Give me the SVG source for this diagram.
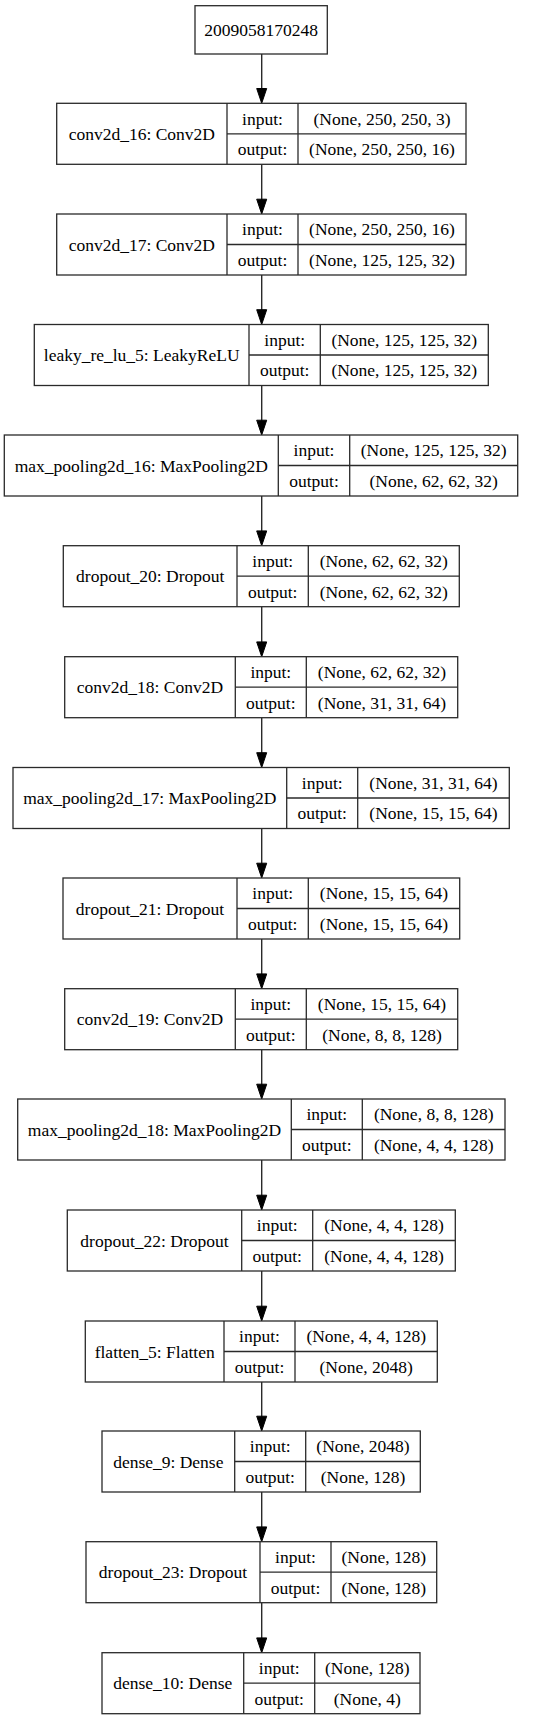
<svg xmlns="http://www.w3.org/2000/svg" width="548" height="1720" viewBox="0 0 548 1720">
<style>
.box{fill:#fff;stroke:#2a2a2a;stroke-width:1.3}
.div{stroke:#2a2a2a;stroke-width:1.3}
.t text{font-family:'Liberation Serif','Times New Roman',serif;font-size:17.5px;fill:#000;text-anchor:middle}
.edge{stroke:#2a2a2a;stroke-width:1.4;fill:none}
.head{fill:#000;stroke:#000;stroke-width:1}
</style>
<rect width="548" height="1720" fill="#fff"/>
<g id="connectors">
<line class="edge" x1="261.7" y1="54" x2="261.7" y2="89"/><polygon class="head" points="256.7,88.5 266.7,88.5 261.7,103.3"/>
<line class="edge" x1="261.7" y1="164.3" x2="261.7" y2="200"/><polygon class="head" points="256.7,199.2 266.7,199.2 261.7,214"/>
<line class="edge" x1="261.7" y1="275" x2="261.7" y2="310"/><polygon class="head" points="256.7,309.7 266.7,309.7 261.7,324.5"/>
<line class="edge" x1="261.7" y1="385.5" x2="261.7" y2="421"/><polygon class="head" points="256.7,420.2 266.7,420.2 261.7,435"/>
<line class="edge" x1="261.7" y1="496" x2="261.7" y2="531"/><polygon class="head" points="256.7,530.9 266.7,530.9 261.7,545.7"/>
<line class="edge" x1="261.7" y1="606.7" x2="261.7" y2="642"/><polygon class="head" points="256.7,641.9 266.7,641.9 261.7,656.7"/>
<line class="edge" x1="261.7" y1="717.7" x2="261.7" y2="753"/><polygon class="head" points="256.7,752.7 266.7,752.7 261.7,767.5"/>
<line class="edge" x1="261.7" y1="828.5" x2="261.7" y2="864"/><polygon class="head" points="256.7,863.2 266.7,863.2 261.7,878"/>
<line class="edge" x1="261.7" y1="939" x2="261.7" y2="974"/><polygon class="head" points="256.7,973.9 266.7,973.9 261.7,988.7"/>
<line class="edge" x1="261.7" y1="1049.7" x2="261.7" y2="1085"/><polygon class="head" points="256.7,1084.2 266.7,1084.2 261.7,1099"/>
<line class="edge" x1="261.7" y1="1160" x2="261.7" y2="1196"/><polygon class="head" points="256.7,1195.2 266.7,1195.2 261.7,1210"/>
<line class="edge" x1="261.7" y1="1271" x2="261.7" y2="1307"/><polygon class="head" points="256.7,1306.2 266.7,1306.2 261.7,1321"/>
<line class="edge" x1="261.7" y1="1382" x2="261.7" y2="1417"/><polygon class="head" points="256.7,1416.2 266.7,1416.2 261.7,1431"/>
<line class="edge" x1="261.7" y1="1492" x2="261.7" y2="1527"/><polygon class="head" points="256.7,1526.9 266.7,1526.9 261.7,1541.7"/>
<line class="edge" x1="261.7" y1="1602.7" x2="261.7" y2="1638"/><polygon class="head" points="256.7,1637.9 266.7,1637.9 261.7,1652.7"/>
</g>
<g class="t">
<g id="input_node">
<rect class="box" x="195" y="5.7" width="132.3" height="48.3"/>
<text x="261.2" y="35.6">2009058170248</text>
</g>
<g id="conv2d_16">
<rect class="box" x="56.7" y="103.3" width="409.3" height="61"/>
<line class="div" x1="227" y1="103.3" x2="227" y2="164.3"/><line class="div" x1="298" y1="103.3" x2="298" y2="164.3"/><line class="div" x1="227" y1="133.8" x2="466" y2="133.8"/>
<text x="141.8" y="139.8">conv2d_16: Conv2D</text><text x="262.5" y="124.6">input:</text><text x="262.5" y="155.1">output:</text>
<text x="382" y="124.6">(None, 250, 250, 3)</text><text x="382" y="155.1">(None, 250, 250, 16)</text>
</g>
<g id="conv2d_17">
<rect class="box" x="56.7" y="214" width="409.3" height="61"/>
<line class="div" x1="227" y1="214" x2="227" y2="275"/><line class="div" x1="298" y1="214" x2="298" y2="275"/><line class="div" x1="227" y1="244.5" x2="466" y2="244.5"/>
<text x="141.8" y="250.5">conv2d_17: Conv2D</text><text x="262.5" y="235.3">input:</text><text x="262.5" y="265.8">output:</text>
<text x="382" y="235.3">(None, 250, 250, 16)</text><text x="382" y="265.8">(None, 125, 125, 32)</text>
</g>
<g id="leaky_re_lu_5">
<rect class="box" x="34.3" y="324.5" width="454" height="61"/>
<line class="div" x1="249" y1="324.5" x2="249" y2="385.5"/><line class="div" x1="320.3" y1="324.5" x2="320.3" y2="385.5"/><line class="div" x1="249" y1="355" x2="488.3" y2="355"/>
<text x="141.7" y="361">leaky_re_lu_5: LeakyReLU</text><text x="284.7" y="345.8">input:</text><text x="284.7" y="376.3">output:</text>
<text x="404.3" y="345.8">(None, 125, 125, 32)</text><text x="404.3" y="376.3">(None, 125, 125, 32)</text>
</g>
<g id="max_pooling2d_16">
<rect class="box" x="4.3" y="435" width="513.4" height="61"/>
<line class="div" x1="278.3" y1="435" x2="278.3" y2="496"/><line class="div" x1="349.7" y1="435" x2="349.7" y2="496"/><line class="div" x1="278.3" y1="465.5" x2="517.7" y2="465.5"/>
<text x="141.3" y="471.5">max_pooling2d_16: MaxPooling2D</text><text x="314" y="456.3">input:</text><text x="314" y="486.8">output:</text>
<text x="433.7" y="456.3">(None, 125, 125, 32)</text><text x="433.7" y="486.8">(None, 62, 62, 32)</text>
</g>
<g id="dropout_20">
<rect class="box" x="63.3" y="545.7" width="396" height="61"/>
<line class="div" x1="237" y1="545.7" x2="237" y2="606.7"/><line class="div" x1="308.3" y1="545.7" x2="308.3" y2="606.7"/><line class="div" x1="237" y1="576.2" x2="459.3" y2="576.2"/>
<text x="150.2" y="582.2">dropout_20: Dropout</text><text x="272.7" y="567">input:</text><text x="272.7" y="597.5">output:</text>
<text x="383.8" y="567">(None, 62, 62, 32)</text><text x="383.8" y="597.5">(None, 62, 62, 32)</text>
</g>
<g id="conv2d_18">
<rect class="box" x="64.7" y="656.7" width="393" height="61"/>
<line class="div" x1="235.3" y1="656.7" x2="235.3" y2="717.7"/><line class="div" x1="306.3" y1="656.7" x2="306.3" y2="717.7"/><line class="div" x1="235.3" y1="687.2" x2="457.7" y2="687.2"/>
<text x="150" y="693.2">conv2d_18: Conv2D</text><text x="270.8" y="678">input:</text><text x="270.8" y="708.5">output:</text>
<text x="382" y="678">(None, 62, 62, 32)</text><text x="382" y="708.5">(None, 31, 31, 64)</text>
</g>
<g id="max_pooling2d_17">
<rect class="box" x="13" y="767.5" width="496.3" height="61"/>
<line class="div" x1="286.7" y1="767.5" x2="286.7" y2="828.5"/><line class="div" x1="357.7" y1="767.5" x2="357.7" y2="828.5"/><line class="div" x1="286.7" y1="798" x2="509.3" y2="798"/>
<text x="149.8" y="804">max_pooling2d_17: MaxPooling2D</text><text x="322.2" y="788.8">input:</text><text x="322.2" y="819.3">output:</text>
<text x="433.5" y="788.8">(None, 31, 31, 64)</text><text x="433.5" y="819.3">(None, 15, 15, 64)</text>
</g>
<g id="dropout_21">
<rect class="box" x="63" y="878" width="396.7" height="61"/>
<line class="div" x1="237" y1="878" x2="237" y2="939"/><line class="div" x1="308.3" y1="878" x2="308.3" y2="939"/><line class="div" x1="237" y1="908.5" x2="459.7" y2="908.5"/>
<text x="150" y="914.5">dropout_21: Dropout</text><text x="272.7" y="899.3">input:</text><text x="272.7" y="929.8">output:</text>
<text x="384" y="899.3">(None, 15, 15, 64)</text><text x="384" y="929.8">(None, 15, 15, 64)</text>
</g>
<g id="conv2d_19">
<rect class="box" x="64.7" y="988.7" width="393" height="61"/>
<line class="div" x1="235.3" y1="988.7" x2="235.3" y2="1049.7"/><line class="div" x1="306.3" y1="988.7" x2="306.3" y2="1049.7"/><line class="div" x1="235.3" y1="1019.2" x2="457.7" y2="1019.2"/>
<text x="150" y="1025.2">conv2d_19: Conv2D</text><text x="270.8" y="1010">input:</text><text x="270.8" y="1040.5">output:</text>
<text x="382" y="1010">(None, 15, 15, 64)</text><text x="382" y="1040.5">(None, 8, 8, 128)</text>
</g>
<g id="max_pooling2d_18">
<rect class="box" x="17.7" y="1099" width="487.3" height="61"/>
<line class="div" x1="291.3" y1="1099" x2="291.3" y2="1160"/><line class="div" x1="362.3" y1="1099" x2="362.3" y2="1160"/><line class="div" x1="291.3" y1="1129.5" x2="505" y2="1129.5"/>
<text x="154.5" y="1135.5">max_pooling2d_18: MaxPooling2D</text><text x="326.8" y="1120.3">input:</text><text x="326.8" y="1150.8">output:</text>
<text x="433.7" y="1120.3">(None, 8, 8, 128)</text><text x="433.7" y="1150.8">(None, 4, 4, 128)</text>
</g>
<g id="dropout_22">
<rect class="box" x="67.3" y="1210" width="388" height="61"/>
<line class="div" x1="241.7" y1="1210" x2="241.7" y2="1271"/><line class="div" x1="312.7" y1="1210" x2="312.7" y2="1271"/><line class="div" x1="241.7" y1="1240.5" x2="455.3" y2="1240.5"/>
<text x="154.5" y="1246.5">dropout_22: Dropout</text><text x="277.2" y="1231.3">input:</text><text x="277.2" y="1261.8">output:</text>
<text x="384" y="1231.3">(None, 4, 4, 128)</text><text x="384" y="1261.8">(None, 4, 4, 128)</text>
</g>
<g id="flatten_5">
<rect class="box" x="85.3" y="1321" width="352" height="61"/>
<line class="div" x1="224" y1="1321" x2="224" y2="1382"/><line class="div" x1="295" y1="1321" x2="295" y2="1382"/><line class="div" x1="224" y1="1351.5" x2="437.3" y2="1351.5"/>
<text x="154.7" y="1357.5">flatten_5: Flatten</text><text x="259.5" y="1342.3">input:</text><text x="259.5" y="1372.8">output:</text>
<text x="366.2" y="1342.3">(None, 4, 4, 128)</text><text x="366.2" y="1372.8">(None, 2048)</text>
</g>
<g id="dense_9">
<rect class="box" x="102" y="1431" width="318.3" height="61"/>
<line class="div" x1="234.7" y1="1431" x2="234.7" y2="1492"/><line class="div" x1="305.7" y1="1431" x2="305.7" y2="1492"/><line class="div" x1="234.7" y1="1461.5" x2="420.3" y2="1461.5"/>
<text x="168.3" y="1467.5">dense_9: Dense</text><text x="270.2" y="1452.3">input:</text><text x="270.2" y="1482.8">output:</text>
<text x="363" y="1452.3">(None, 2048)</text><text x="363" y="1482.8">(None, 128)</text>
</g>
<g id="dropout_23">
<rect class="box" x="86" y="1541.7" width="350.7" height="61"/>
<line class="div" x1="260" y1="1541.7" x2="260" y2="1602.7"/><line class="div" x1="331" y1="1541.7" x2="331" y2="1602.7"/><line class="div" x1="260" y1="1572.2" x2="436.7" y2="1572.2"/>
<text x="173" y="1578.2">dropout_23: Dropout</text><text x="295.5" y="1563">input:</text><text x="295.5" y="1593.5">output:</text>
<text x="383.8" y="1563">(None, 128)</text><text x="383.8" y="1593.5">(None, 128)</text>
</g>
<g id="dense_10">
<rect class="box" x="102" y="1652.7" width="318" height="61"/>
<line class="div" x1="243.7" y1="1652.7" x2="243.7" y2="1713.7"/><line class="div" x1="314.7" y1="1652.7" x2="314.7" y2="1713.7"/><line class="div" x1="243.7" y1="1683.2" x2="420" y2="1683.2"/>
<text x="172.8" y="1689.2">dense_10: Dense</text><text x="279.2" y="1674">input:</text><text x="279.2" y="1704.5">output:</text>
<text x="367.3" y="1674">(None, 128)</text><text x="367.3" y="1704.5">(None, 4)</text>
</g>
</g>
</svg>
